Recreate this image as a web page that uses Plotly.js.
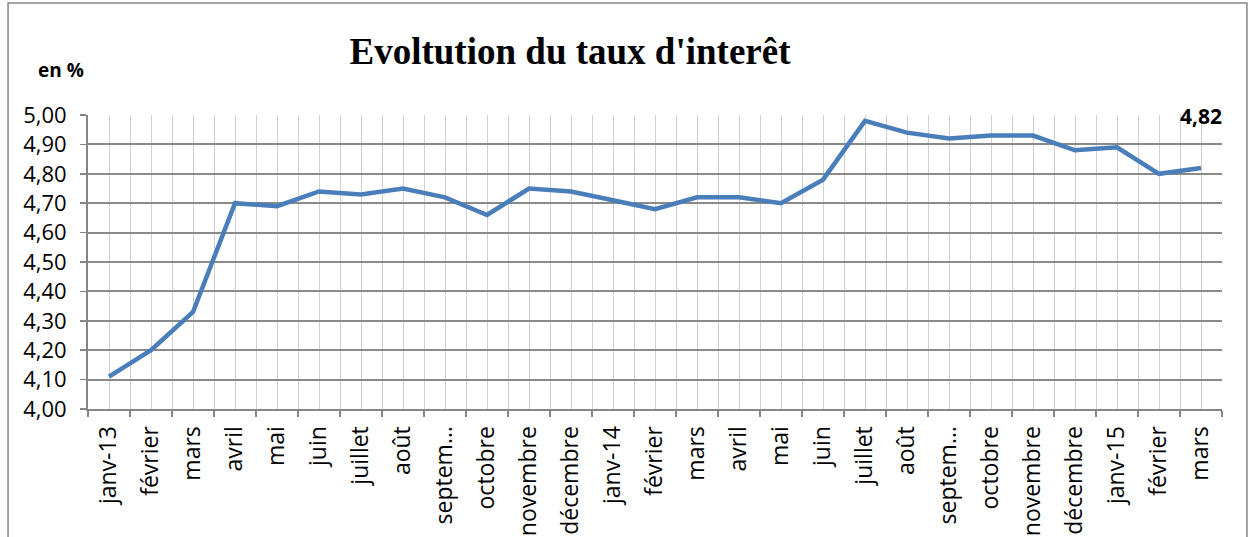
<!DOCTYPE html>
<html>
<head>
<meta charset="utf-8">
<script src="https://cdn.plot.ly/plotly-3.0.1.min.js"></script>
<style>html,body{margin:0;padding:0;background:#fff}#chart{width:1250px;height:537px}</style>
</head>
<body>
<div id="chart"></div>
<script>
const categories = ["janv-13","février","mars","avril","mai","juin","juillet","août","septem…","octobre","novembre","décembre",
  "janv-14","février","mars","avril","mai","juin","juillet","août","septem…","octobre","novembre","décembre",
  "janv-15","février","mars"];
const rates = [4.11,4.20,4.33,4.70,4.69,4.74,4.73,4.75,4.72,4.66,4.75,4.74,
  4.71,4.68,4.72,4.72,4.70,4.78,4.98,4.94,4.92,4.93,4.93,4.88,
  4.89,4.80,4.82];
const yTicks = [4.0,4.1,4.2,4.3,4.4,4.5,4.6,4.7,4.8,4.9,5.0];
const titleText = "Evoltution du taux d'interêt";
const unitText = "en %";
const lastLabel = "4,82";

const idx = categories.map((_, i) => i);

const trace = {
  x: idx, y: rates, type: 'scatter', mode: 'lines',
  line: {color: '#4a7ebb', width: 4.5},
  hoverinfo: 'skip'
};

const layout = {
  width: 1250, height: 537,
  margin: {l: 88, r: 28, t: 115, b: 128},
  paper_bgcolor: '#ffffff', plot_bgcolor: '#ffffff',
  separators: ', ',
  showlegend: false,
  title: {text: titleText, font: {family: 'Liberation Serif', size: 37, color: '#000', weight: 'bold'},
          x: 0.456, xanchor: 'center', xref: 'container', y: 0.905, yanchor: 'middle', yref: 'container'},
  xaxis: {
    range: [-0.5, categories.length - 0.5],
    tickmode: 'array', tickvals: idx, ticktext: categories,
    tickangle: -90, ticks: '', showgrid: true, gridcolor: '#d0d0d0', gridwidth: 1,
    tickfont: {family: 'Open Sans', size: 23, color: '#000'},
    ticklabelstandoff: 6,
    showline: true, linecolor: '#868686', linewidth: 2,
    minor: {tick0: -0.5, dtick: 1, ticks: 'outside', ticklen: 6, tickcolor: '#868686', tickwidth: 1.5,
            showgrid: true, gridcolor: '#d0d0d0', gridwidth: 1},
    zeroline: false, fixedrange: true
  },
  yaxis: {
    range: [4.0, 5.0], tickmode: 'array', tickvals: yTicks, tickformat: '.2f',
    ticks: 'outside', ticklen: 6, tickcolor: '#868686', tickwidth: 1.5,
    tickfont: {family: 'Open Sans', size: 22, color: '#000'},
    ticklabelstandoff: 9,
    showgrid: true, gridcolor: '#8a8a8a', gridwidth: 2,
    showline: true, linecolor: '#868686', linewidth: 2,
    zeroline: false, fixedrange: true
  },
  annotations: [
    {text: unitText, xref: 'paper', yref: 'paper', x: -0.024, y: 1.153, xanchor: 'center', yanchor: 'middle',
     showarrow: false, font: {family: 'Open Sans', size: 19, color: '#000', weight: 'bold'}},
    {text: lastLabel, xref: 'x', yref: 'y', x: categories.length - 1, y: 5.0, xanchor: 'center', yanchor: 'middle',
     yshift: -1, showarrow: false, font: {family: 'Open Sans', size: 21, color: '#000', weight: 'bold'}}
  ],
  shapes: [
    {type: 'rect', xref: 'paper', yref: 'paper', x0: -0.0705, x1: 1.022, y0: -0.5, y1: 1.381,
     line: {color: '#868686', width: 1.5}, fillcolor: 'rgba(0,0,0,0)', layer: 'below'}
  ]
};

Plotly.newPlot('chart', [trace], layout, {displayModeBar: false, staticPlot: true});
</script>
</body>
</html>
